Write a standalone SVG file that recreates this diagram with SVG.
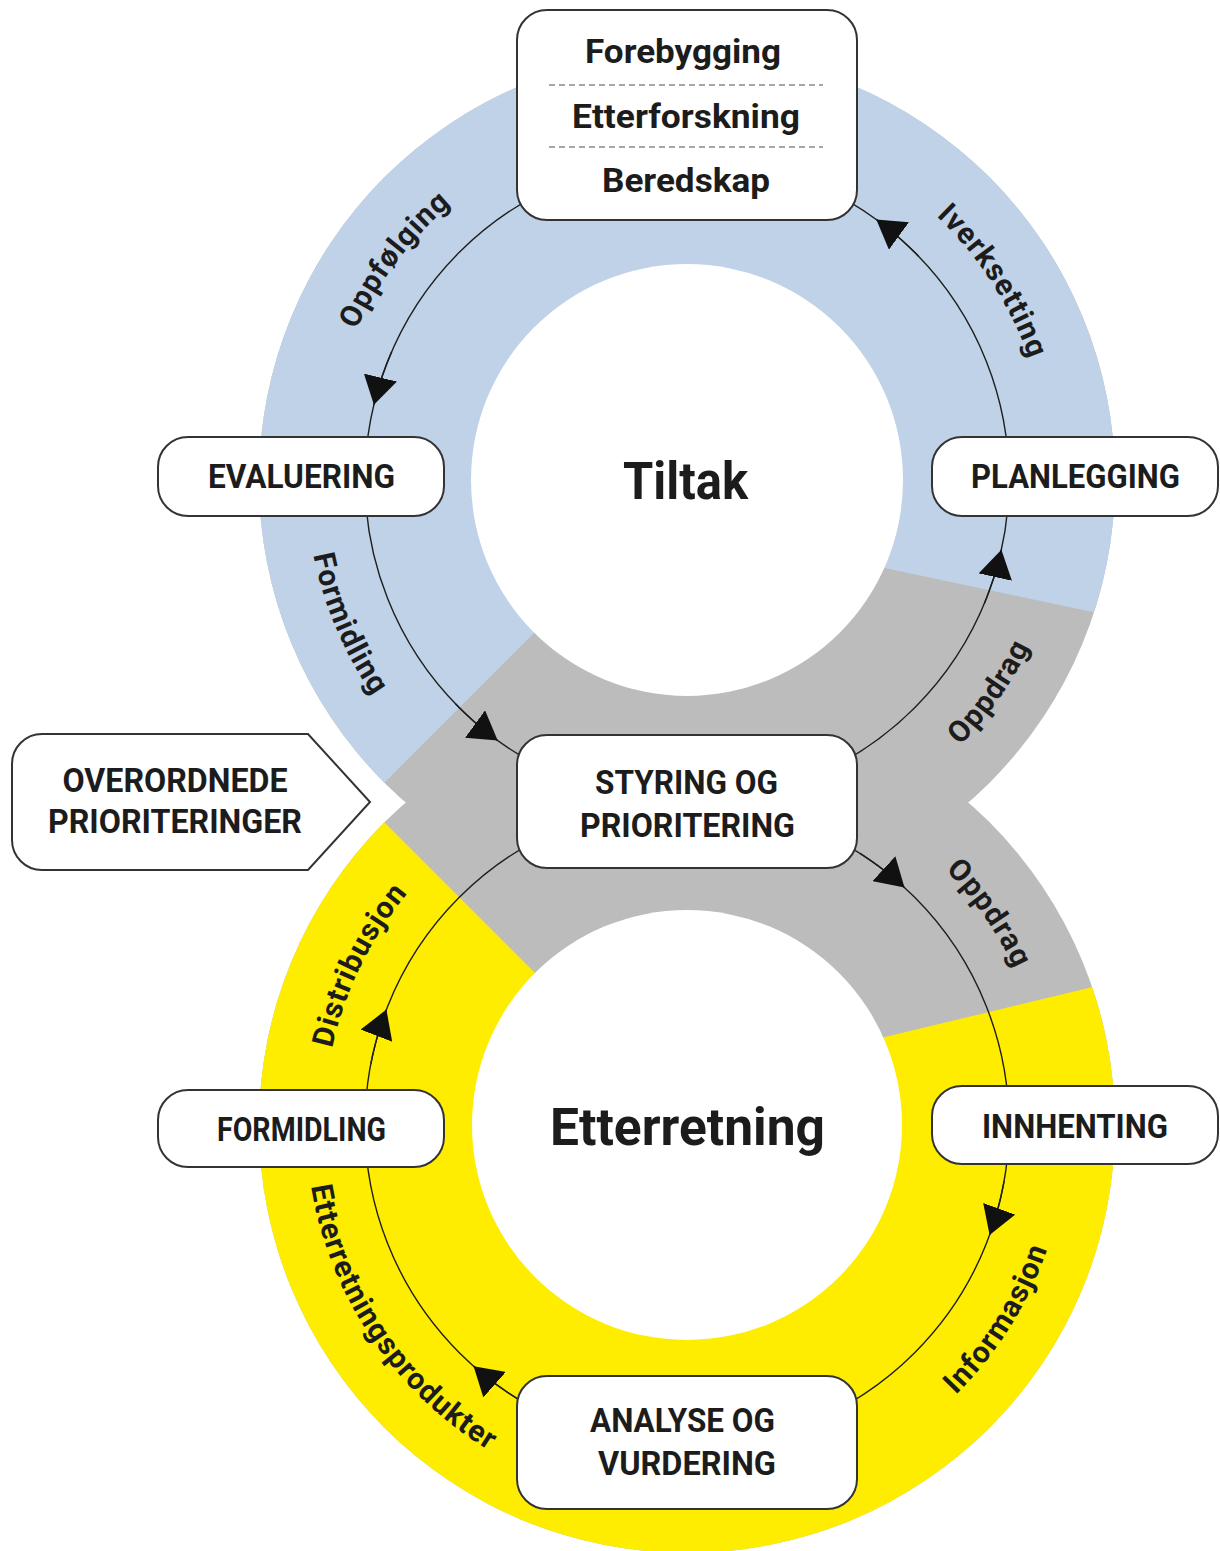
<svg xmlns="http://www.w3.org/2000/svg" width="1220" height="1551" viewBox="0 0 1220 1551">
<defs>
<style>
.box{fill:#ffffff;stroke:#333333;stroke-width:2}
.t{font-family:Roboto,"Liberation Sans",sans-serif;font-weight:700;fill:#1c1c1c;text-anchor:middle}
.cap{font-size:33px}
.mix{font-size:33px}
.big{font-size:51px}
.lbl{font-family:Roboto,"Liberation Sans",sans-serif;font-weight:700;font-size:30px;fill:#1c1c1c;letter-spacing:1px;text-anchor:middle}
.conn{fill:none;stroke:#1e1e1e;stroke-width:1.4}
.dash{stroke:#8a8a8a;stroke-width:1.5;stroke-dasharray:6 4}
.guide{fill:none;stroke:none}
</style>
<clipPath id="topDisk"><circle cx="687" cy="480" r="428"/></clipPath>
<clipPath id="botDisk"><circle cx="687" cy="1125" r="428"/></clipPath>
<marker id="arr" markerUnits="userSpaceOnUse" markerWidth="28" markerHeight="34" viewBox="0 0 28 34" refX="28" refY="17" orient="auto"><path d="M0,0 L28,17 L0,34 Z" fill="#111111"/></marker>
<path id="pOppfolging" class="guide" d="M324.5,499 A363,363 0 0 1 605.3,126.3"/>
<path id="pIverksetting" class="guide" d="M793.1,132.9 A363,363 0 0 1 1047.3,524.2"/>
<path id="pFormidlingTop" class="guide" d="M322.6,368.6 A381,381 0 0 0 514,819.5"/>
<path id="pOppdragTop" class="guide" d="M785.6,848 A381,381 0 0 0 1066.6,446.8"/>
<path id="pOppdragBot" class="guide" d="M781,774.4 A363,363 0 0 1 1048.6,1156.6"/>
<path id="pInformasjon" class="guide" d="M804.7,1487.4 A381,381 0 0 0 1064.3,1072"/>
<path id="pProdukter" class="guide" d="M344.6,958 A381,381 0 0 0 713.6,1505.1"/>
<path id="pDistribusjon" class="guide" d="M334.8,1212.8 A363,363 0 0 1 539.4,793.4"/>
</defs>

<g id="rings">
  <circle cx="687" cy="480" r="428" fill="#bdbcbc"/>
  <circle cx="687" cy="1125" r="428" fill="#bdbcbc"/>
  <polygon clip-path="url(#topDisk)" fill="#bfd2e8" points="687,480 87,1080 0,1080 0,0 1220,0 1220,639 700,529"/>
  <polygon clip-path="url(#botDisk)" fill="#ffed00" points="687,1125 87,525 0,525 0,1551 1220,1551 1220,956.5 700,1081.5"/>
  <circle cx="687" cy="480" r="216" fill="#ffffff"/>
  <circle cx="687" cy="1125" r="215" fill="#ffffff"/>
</g>

<g id="connectors">
  <circle class="conn" cx="687" cy="480" r="322"/>
  <circle class="conn" cx="687" cy="1125" r="322"/>
  <path class="conn" marker-end="url(#arr)" d="M391.7,351.6 A322,322 0 0 0 373.9,404.8"/>
  <path class="conn" marker-end="url(#arr)" d="M455.4,703.7 A322,322 0 0 0 497.7,740.5"/>
  <path class="conn" marker-end="url(#arr)" d="M984.5,603.2 A322,322 0 0 0 1001.4,549.7"/>
  <path class="conn" marker-end="url(#arr)" d="M918.6,256.3 A322,322 0 0 0 876.3,219.5"/>
  <path class="conn" marker-end="url(#arr)" d="M860,853.4 A322,322 0 0 1 904.5,887.6"/>
  <path class="conn" marker-end="url(#arr)" d="M1004.1,1180.9 A322,322 0 0 1 989.6,1235.1"/>
  <path class="conn" marker-end="url(#arr)" d="M518.8,1399.6 A322,322 0 0 1 473.6,1366.2"/>
  <path class="conn" marker-end="url(#arr)" d="M370.9,1063.6 A322,322 0 0 1 386.4,1009.6"/>
</g>

<g id="connector-labels">
  <text class="lbl"><textPath href="#pOppfolging" startOffset="50%">Oppfølging</textPath></text>
  <text class="lbl"><textPath href="#pIverksetting" startOffset="50%">Iverksetting</textPath></text>
  <text class="lbl"><textPath href="#pFormidlingTop" startOffset="50%">Formidling</textPath></text>
  <text class="lbl"><textPath href="#pOppdragTop" startOffset="50%">Oppdrag</textPath></text>
  <text class="lbl"><textPath href="#pOppdragBot" startOffset="50%">Oppdrag</textPath></text>
  <text class="lbl"><textPath href="#pInformasjon" startOffset="50%">Informasjon</textPath></text>
  <text class="lbl"><textPath href="#pProdukter" startOffset="50%">Etterretningsprodukter</textPath></text>
  <text class="lbl"><textPath href="#pDistribusjon" startOffset="50%">Distribusjon</textPath></text>
</g>

<g id="center-tiltak">
  <text class="t big" x="685.5" y="499" textLength="125" lengthAdjust="spacingAndGlyphs">Tiltak</text>
</g>
<g id="center-etterretning">
  <text class="t big" x="687.5" y="1145" textLength="275" lengthAdjust="spacingAndGlyphs">Etterretning</text>
</g>

<g id="node-tiltakstyper">
  <rect class="box" x="517" y="10" width="340" height="210" rx="30"/>
  <line class="dash" x1="549" y1="85" x2="823" y2="85"/>
  <line class="dash" x1="549" y1="147" x2="823" y2="147"/>
  <text class="t mix" x="683" y="63" textLength="196" lengthAdjust="spacingAndGlyphs">Forebygging</text>
  <text class="t mix" x="686" y="128" textLength="228" lengthAdjust="spacingAndGlyphs">Etterforskning</text>
  <text class="t mix" x="686" y="192" textLength="168" lengthAdjust="spacingAndGlyphs">Beredskap</text>
</g>

<g id="node-evaluering">
  <rect class="box" x="158" y="437" width="286" height="79" rx="30"/>
  <text class="t cap" x="301.5" y="488" textLength="187" lengthAdjust="spacingAndGlyphs">EVALUERING</text>
</g>

<g id="node-planlegging">
  <rect class="box" x="932" y="437" width="286" height="79" rx="30"/>
  <text class="t cap" x="1075.5" y="488" textLength="209" lengthAdjust="spacingAndGlyphs">PLANLEGGING</text>
</g>

<g id="node-overordnede">
  <path class="box" d="M42,734 H308 L370,802 L308,870 H42 A30,30 0 0 1 12,840 V764 A30,30 0 0 1 42,734 Z"/>
  <text class="t cap" x="175" y="792" textLength="225" lengthAdjust="spacingAndGlyphs">OVERORDNEDE</text>
  <text class="t cap" x="175" y="833" textLength="254" lengthAdjust="spacingAndGlyphs">PRIORITERINGER</text>
</g>

<g id="node-styring">
  <rect class="box" x="517" y="735" width="340" height="133" rx="30"/>
  <text class="t cap" x="686.5" y="794" textLength="183" lengthAdjust="spacingAndGlyphs">STYRING OG</text>
  <text class="t cap" x="687.5" y="837" textLength="215" lengthAdjust="spacingAndGlyphs">PRIORITERING</text>
</g>

<g id="node-formidling">
  <rect class="box" x="158" y="1090" width="286" height="77" rx="30"/>
  <text class="t cap" x="301.5" y="1141" textLength="169" lengthAdjust="spacingAndGlyphs">FORMIDLING</text>
</g>

<g id="node-innhenting">
  <rect class="box" x="932" y="1086" width="286" height="78" rx="30"/>
  <text class="t cap" x="1075" y="1138" textLength="186" lengthAdjust="spacingAndGlyphs">INNHENTING</text>
</g>

<g id="node-analyse">
  <rect class="box" x="517" y="1376" width="340" height="133" rx="30"/>
  <text class="t cap" x="682.5" y="1432" textLength="185" lengthAdjust="spacingAndGlyphs">ANALYSE OG</text>
  <text class="t cap" x="687" y="1475" textLength="178" lengthAdjust="spacingAndGlyphs">VURDERING</text>
</g>
</svg>
